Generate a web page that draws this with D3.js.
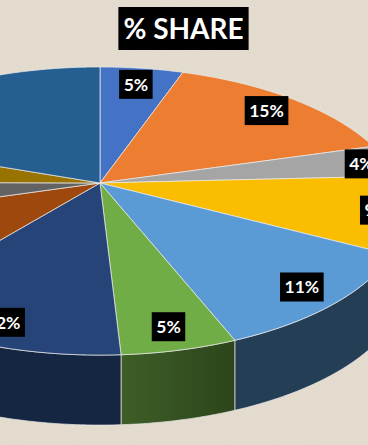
<!DOCTYPE html>
<html>
<head>
<meta charset="utf-8">
<script src="https://cdn.jsdelivr.net/npm/d3@7"></script>
<style>
  html, body { margin: 0; padding: 0; overflow: hidden; background: #E3DCCF; }
  svg { display: block; }
</style>
</head>
<body>
<svg id="chart" width="368" height="445"></svg>
<script>
// ---- data ----
const categories = ["A", "B", "C", "D", "E", "F", "G", "H", "I", "J", "K"];
const shares = [5.3, 15.2, 3.7, 8.6, 11.2, 5.1, 11.7, 9.6, 4.7, 5.3, 19.6];
const colors = ["#4472C4", "#ED7D31", "#A5A5A5", "#FBBD00", "#5B9BD5", "#70AD47",
                "#264478", "#9E480E", "#636363", "#997300", "#255E91"];
const title = "% SHARE";

// ---- layout ----
const W = 368, H = 445;
const CX = 100, CY = 183;     // projected pie centre
const A = 300, B = 138.6;     // horizontal / depth scale
const K = 0.1945;             // perspective factor
const DEPTH = 70;             // thickness of the pie
const LABEL_F = 0.86;

const svg = d3.select("#chart");

// background with subtle paper texture
const defs = svg.append("defs");
const f = defs.append("filter").attr("id", "paper").attr("x", 0).attr("y", 0).attr("width", "100%").attr("height", "100%");
f.append("feTurbulence").attr("type", "fractalNoise").attr("baseFrequency", 0.9).attr("numOctaves", 2).attr("seed", 3).attr("result", "n");
f.append("feColorMatrix").attr("in", "n").attr("type", "matrix")
  .attr("values", "0 0 0 0 0.55  0 0 0 0 0.50  0 0 0 0 0.42  0 0 0 -1.6 0.9").attr("result", "c");
f.append("feComposite").attr("in", "c").attr("in2", "SourceGraphic").attr("operator", "in");
svg.append("rect").attr("width", W).attr("height", H).attr("fill", "#E3DCCF");
svg.append("rect").attr("width", W).attr("height", H).attr("fill", "#E3DCCF").attr("filter", "url(#paper)").attr("opacity", 0.18);

function proj(theta, s) {
  const u = Math.sin(theta) * s, v = Math.cos(theta) * s;
  const w = 1 + K * v;
  return [CX + A * u / w, CY - B * v / w];
}
function arcPts(a0, a1, dy) {
  const n = Math.max(2, Math.ceil((a1 - a0) / 0.01));
  return d3.range(n + 1).map(i => {
    const p = proj(a0 + (a1 - a0) * i / n, 1);
    return [p[0], p[1] + dy];
  });
}

const pie = d3.pie().sort(null).value(d => d).startAngle(0).endAngle(2 * Math.PI);
const arcs = pie(shares);
const line = d3.line();

// visible rim range
const visL = Math.acos(-K);
const visR = 2 * Math.PI - Math.acos(-K);

// side shading factor by screen x (light from the left)
const shade = d3.scaleLinear().domain([110, 235]).range([0.56, 0.40]).clamp(true);
function shadeColor(c, x) {
  const k = shade(x), r = d3.rgb(c);
  return d3.rgb(r.r * k, r.g * k, r.b * k).formatHex();
}

const sideG = svg.append("g");
arcs.forEach((d, i) => {
  const a0 = Math.max(d.startAngle, visL), a1 = Math.min(d.endAngle, visR);
  if (a1 <= a0) return;
  const top = arcPts(a0, a1, 0);
  const bot = arcPts(a0, a1, DEPTH).reverse();
  const xs = top.map(p => p[0]);
  const x0 = d3.min(xs), x1 = d3.max(xs);
  const gid = "sg" + i;
  const g = defs.append("linearGradient").attr("id", gid)
    .attr("gradientUnits", "userSpaceOnUse")
    .attr("x1", x0).attr("x2", x1).attr("y1", 0).attr("y2", 0);
  d3.range(6).forEach(j => {
    const t = j / 5;
    g.append("stop").attr("offset", t).attr("stop-color", shadeColor(colors[i], x0 + (x1 - x0) * t));
  });
  sideG.append("path")
    .attr("d", line(top.concat(bot)) + "Z")
    .attr("fill", `url(#${gid})`)
    .attr("stroke", "rgba(235,235,235,0.75)")
    .attr("stroke-width", 0.9)
    .attr("stroke-linejoin", "round");
});

const topG = svg.append("g");
arcs.forEach((d, i) => {
  const pts = [[CX, CY]].concat(arcPts(d.startAngle, d.endAngle, 0));
  topG.append("path")
    .attr("d", line(pts) + "Z")
    .attr("fill", colors[i])
    .attr("stroke", "rgba(235,235,235,0.8)")
    .attr("stroke-width", 0.9)
    .attr("stroke-linejoin", "round");
});

// data labels
const fmt = d => Math.round(d) + "%";
const labG = svg.append("g").attr("font-family", "Lato, 'Open Sans', sans-serif").attr("font-weight", "bold");
arcs.forEach((d, i) => {
  const mid = (d.startAngle + d.endAngle) / 2;
  const e = proj(mid, 1);
  const ax = CX + LABEL_F * (e[0] - CX), ay = CY + LABEL_F * (e[1] - CY);
  const g = labG.append("g");
  const r = g.append("rect").attr("fill", "#000");
  const t = g.append("text").text(fmt(d.data))
    .attr("fill", "#fff").attr("font-size", 17.5).attr("text-anchor", "middle")
    .attr("dy", "0.36em");
  const tw = t.node().getComputedTextLength();
  const bw = tw + 9;
  // labels on the sides are pushed outward by half their width
  const sx = Math.sin(mid);
  const px = ax + Math.sign(sx) * (bw / 2) * Math.pow(Math.abs(sx), 8);
  g.attr("transform", `translate(${px},${ay})`);
  r.attr("x", -bw / 2).attr("y", -14.5).attr("width", bw).attr("height", 29);
});

// title
const tg = svg.append("g").attr("transform", "translate(183.5,28.5)")
  .attr("font-family", "Lato, 'Open Sans', sans-serif").attr("font-weight", "bold");
const tr = tg.append("rect").attr("fill", "#000");
const tt = tg.append("text").text(title).attr("fill", "#fff").attr("font-size", 28)
  .attr("text-anchor", "middle").attr("dy", "0.36em");
const tw = tt.node().getComputedTextLength();
tr.attr("x", -tw / 2 - 5).attr("y", -21.5).attr("width", tw + 10).attr("height", 43);
</script>
</body>
</html>
